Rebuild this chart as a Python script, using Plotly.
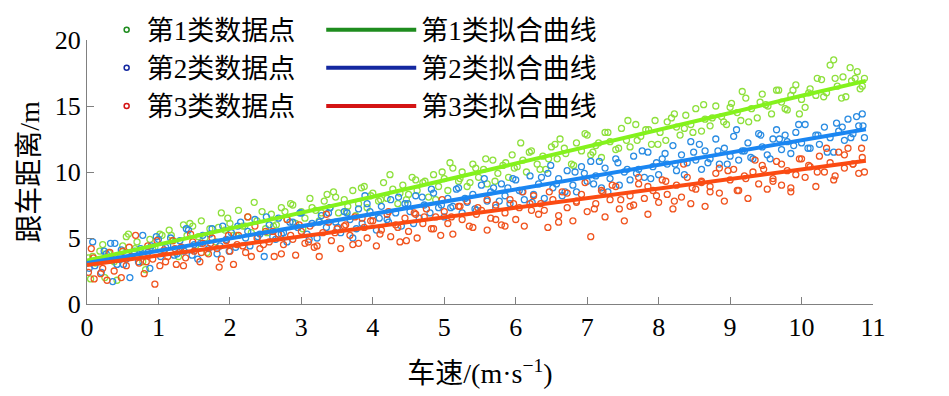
import plotly.graph_objects as go

# ---------------- data ----------------
green_x = [0.02,0.05,0.12,0.18,0.25,0.3,0.38,0.42,0.5,0.55,0.62,0.7,0.75,0.82,0.88,0.95,1.02,1.08,1.15,1.2,1.28,1.35,1.4,1.48,1.52,1.6,1.65,1.72,1.8,1.88,1.93,2.0,2.05,2.12,2.18,2.25,2.3,2.38,2.45,2.5,2.58,2.65,2.72,2.8,2.85,2.92,3.0,3.05,3.12,3.2,3.25,3.32,3.4,3.45,3.52,3.6,3.65,3.72,3.8,3.88,3.92,4.0,4.08,4.15,4.2,4.28,4.35,4.42,4.5,4.55,4.62,4.7,4.78,4.85,4.92,5.0,5.05,5.12,5.2,5.25,5.32,5.4,5.48,5.55,5.6,5.68,5.75,5.82,5.9,5.95,6.02,6.1,6.15,6.22,6.3,6.38,6.42,6.5,6.58,6.62,6.7,6.78,6.85,6.92,7.0,7.05,7.12,7.2,7.25,7.32,7.4,7.48,7.55,7.6,7.68,7.75,7.82,7.9,7.95,8.02,8.1,8.18,8.25,8.3,8.38,8.45,8.52,8.6,8.65,8.72,8.8,8.88,8.95,9.02,9.1,9.15,9.22,9.3,9.38,9.45,9.5,9.58,9.65,9.72,9.8,9.85,9.92,10.0,10.05,10.12,10.2,10.28,10.35,10.4,10.45,10.5,10.58,10.62,10.7,10.78,10.82,10.88,
           0.08,0.22,0.35,0.47,0.58,0.67,0.78,0.92,1.05,1.18,1.3,1.44,1.56,1.68,1.84,1.97,2.09,2.21,2.34,2.52,2.61,2.77,2.88,3.02,3.15,3.28,3.36,3.48,3.63,3.76,3.84,3.97,4.11,4.24,4.38,4.47,4.6,4.73,4.88,4.97,5.08,5.22,5.36,5.44,5.58,5.71,5.86,5.98,6.07,6.19,6.34,6.46,6.55,6.68,6.81,6.97,7.08,7.16,7.29,7.44,7.57,7.7,7.86,7.99,8.12,8.22,8.36,8.48,8.63,8.75,8.91,9.0,9.17,9.26,9.42,9.53,9.68,9.77,9.88,9.97,10.1,10.22,10.31,10.47,10.56,10.68,10.75,10.85]
green_y = [3.5,1.9,3.1,4.0,2.0,3.9,3.2,1.8,4.4,5.1,3.6,4.7,3.9,2.6,4.9,4.3,5.3,3.9,5.6,4.8,3.6,6.0,5.2,5.9,4.4,6.3,5.0,5.7,4.7,6.9,5.6,6.1,5.2,7.1,5.9,6.6,5.4,6.3,7.0,5.7,6.8,6.0,7.3,6.4,7.6,6.1,7.0,6.5,8.0,7.1,6.3,7.8,7.3,8.5,6.9,7.9,7.4,8.6,7.6,8.9,7.3,8.4,7.8,9.2,8.0,8.7,7.6,9.0,8.3,9.6,8.6,9.2,8.1,9.8,8.9,9.5,8.6,10.3,9.3,10.0,8.9,10.6,9.6,10.2,9.1,10.9,9.9,10.5,9.6,11.3,10.4,10.9,10.0,11.6,10.6,11.2,10.2,11.9,11.0,12.5,11.4,10.6,12.2,11.6,12.8,11.3,12.0,11.1,13.0,12.3,11.7,13.3,12.4,11.9,13.6,12.7,13.2,12.1,13.9,13.0,12.4,14.1,13.4,12.8,14.3,13.6,14.8,13.1,14.0,13.5,15.0,14.2,13.6,15.2,14.5,13.9,15.6,14.8,14.1,15.9,15.1,14.4,16.2,15.3,14.7,15.8,16.6,15.5,14.9,16.3,15.8,17.0,16.0,18.1,18.5,16.5,17.2,15.7,16.9,17.6,16.3,17.1,
           3.6,4.5,3.3,3.6,5.3,4.2,3.2,4.2,5.2,5.2,4.1,6.1,5.1,3.9,5.8,6.5,5.2,5.9,7.7,5.4,5.9,7.0,7.5,5.7,7.3,6.9,8.3,8.1,7.0,6.7,8.8,8.2,7.9,9.8,8.4,7.9,9.4,9.3,7.9,10.0,10.7,9.5,9.2,10.3,11.0,9.3,10.7,10.3,12.2,11.5,10.2,11.0,12.1,11.8,10.5,12.9,11.5,12.2,13.0,11.8,13.9,12.4,13.2,12.1,13.8,14.4,13.3,13.0,15.1,14.1,13.8,14.9,16.1,13.8,15.3,15.0,16.2,14.8,16.2,14.4,16.0,17.1,15.7,17.1,15.6,17.9,17.1,16.5]

blue_x = [0.03,0.08,0.15,0.2,0.27,0.33,0.36,0.42,0.48,0.55,0.6,0.66,0.72,0.78,0.85,0.9,0.97,1.03,1.1,1.17,1.22,1.3,1.36,1.42,1.5,1.55,1.62,1.7,1.75,1.82,1.9,1.95,2.02,2.08,2.15,2.22,2.28,2.35,2.42,2.48,2.55,2.6,2.68,2.75,2.8,2.88,2.95,3.0,3.08,3.15,3.22,3.28,3.35,3.4,3.48,3.55,3.6,3.68,3.72,3.8,3.85,3.92,4.0,4.05,4.12,4.2,4.25,4.32,4.4,4.45,4.52,4.6,4.65,4.72,4.8,4.85,4.92,5.0,5.05,5.12,5.2,5.25,5.32,5.4,5.45,5.52,5.6,5.65,5.72,5.8,5.85,5.92,6.0,6.05,6.12,6.2,6.25,6.32,6.4,6.45,6.52,6.6,6.65,6.72,6.8,6.85,6.92,7.0,7.05,7.12,7.2,7.25,7.32,7.4,7.45,7.52,7.6,7.65,7.72,7.8,7.85,7.92,8.0,8.05,8.12,8.2,8.25,8.32,8.4,8.45,8.52,8.6,8.65,8.72,8.8,8.85,8.92,9.0,9.05,9.12,9.2,9.25,9.32,9.4,9.45,9.52,9.6,9.65,9.72,9.8,9.85,9.92,10.0,10.05,10.12,10.2,10.25,10.32,10.4,10.45,10.52,10.6,10.65,10.72,10.8,10.85,10.88,
          0.11,0.24,0.39,0.51,0.63,0.75,0.88,1.0,1.13,1.26,1.39,1.47,1.59,1.72,1.86,1.99,2.11,2.25,2.39,2.51,2.64,2.72,2.84,2.98,3.11,3.25,3.38,3.51,3.64,3.77,3.89,3.96,4.09,4.22,4.36,4.49,4.57,4.69,4.82,4.96,5.09,5.17,5.29,5.43,5.56,5.69,5.77,5.89,5.96,6.09,6.23,6.36,6.49,6.57,6.69,6.83,6.96,7.09,7.17,7.29,7.43,7.56,7.69,7.77,7.89,7.97,8.09,8.23,8.36,8.49,8.57,8.69,8.83,8.96,9.09,9.17,9.29,9.43,9.56,9.69,9.77,9.89,9.96,10.09,10.23,10.36,10.49,10.57,10.69,10.77,10.86]
blue_y = [2.7,4.7,3.3,2.4,3.8,4.6,1.7,3.0,4.1,3.4,2.0,4.0,3.2,5.2,3.9,4.4,5.1,3.6,4.3,5.0,3.7,4.8,4.0,5.6,4.5,3.4,5.2,4.2,5.7,3.8,5.9,4.9,5.4,4.3,6.2,5.0,4.4,6.4,5.3,3.6,6.0,5.1,6.5,5.4,4.7,6.2,5.8,6.9,5.3,6.1,5.0,6.7,5.8,7.3,6.2,5.4,7.0,6.4,5.0,7.2,6.1,7.6,6.7,5.6,7.4,6.4,7.9,6.9,5.9,7.6,7.0,8.2,6.5,7.5,6.9,8.4,7.3,6.6,8.0,7.4,8.8,6.9,7.7,8.3,7.1,9.0,7.8,8.5,7.3,9.1,8.2,7.6,9.4,8.6,7.9,9.7,8.3,9.1,8.0,9.9,8.8,9.5,8.2,10.1,9.0,8.5,10.4,9.3,10.8,9.7,8.8,10.3,9.5,11.0,9.0,10.0,9.4,11.2,10.2,9.6,11.5,10.4,9.8,11.0,10.6,12.0,10.1,11.3,10.7,12.3,10.9,10.2,11.6,11.0,12.5,10.6,11.8,11.2,12.7,10.9,11.6,12.2,11.0,12.9,11.9,11.3,12.5,13.2,11.7,12.3,11.4,13.0,12.2,13.6,11.8,12.8,12.1,13.4,12.6,11.5,13.1,12.4,14.0,12.9,13.5,14.4,12.6,
          2.9,4.0,4.6,3.0,3.6,4.2,2.7,4.9,4.4,3.8,5.7,3.7,4.6,5.3,4.4,4.0,5.9,5.5,5.1,6.6,4.9,5.3,6.2,6.9,4.9,6.2,6.9,5.8,6.9,5.7,8.2,7.0,6.5,6.2,8.1,7.6,6.1,8.1,8.7,7.5,7.3,8.7,8.0,7.2,9.5,8.8,7.8,8.8,9.5,8.5,7.7,9.6,10.5,9.1,8.5,10.0,9.9,9.1,10.8,8.5,10.7,10.2,9.9,11.6,9.5,10.7,11.4,10.6,9.8,11.5,12.1,10.7,11.6,10.6,13.2,11.6,11.1,12.8,11.0,12.5,12.8,12.0,13.6,11.8,12.8,11.5,13.7,13.4,12.6,14.2,13.5]

red_x = [0.02,0.06,0.1,0.16,0.22,0.28,0.32,0.38,0.45,0.5,0.55,0.62,0.68,0.73,0.8,0.85,0.92,0.95,1.02,1.08,1.13,1.2,1.25,1.32,1.38,1.45,1.5,1.58,1.62,1.7,1.75,1.82,1.88,1.95,2.0,2.05,2.12,2.18,2.25,2.3,2.38,2.42,2.5,2.55,2.62,2.68,2.75,2.8,2.88,2.92,3.0,3.05,3.12,3.18,3.25,3.3,3.38,3.42,3.5,3.55,3.62,3.68,3.75,3.8,3.88,3.92,4.0,4.05,4.12,4.2,4.25,4.32,4.38,4.45,4.5,4.58,4.62,4.7,4.75,4.82,4.88,4.95,5.0,5.05,5.12,5.2,5.25,5.32,5.4,5.45,5.52,5.6,5.65,5.72,5.8,5.85,5.92,6.0,6.05,6.12,6.2,6.25,6.32,6.4,6.45,6.52,6.6,6.65,6.72,6.8,6.85,6.92,7.0,7.05,7.12,7.2,7.25,7.32,7.4,7.45,7.52,7.6,7.65,7.72,7.8,7.85,7.92,8.0,8.05,8.12,8.2,8.25,8.32,8.4,8.45,8.52,8.6,8.65,8.72,8.8,8.85,8.92,9.0,9.05,9.12,9.2,9.25,9.32,9.4,9.45,9.52,9.6,9.65,9.72,9.8,9.85,9.92,10.0,10.05,10.12,10.2,10.25,10.32,10.4,10.45,10.52,10.6,10.65,10.72,10.8,10.85,10.88,
         0.09,0.19,0.35,0.48,0.59,0.7,0.83,0.98,1.1,1.23,1.35,1.48,1.6,1.73,1.85,1.98,2.1,2.22,2.35,2.47,2.6,2.72,2.85,2.97,3.1,3.22,3.35,3.47,3.6,3.72,3.85,3.97,4.1,4.22,4.35,4.47,4.6,4.72,4.85,4.97,5.1,5.22,5.35,5.47,5.6,5.72,5.85,5.97,6.1,6.22,6.35,6.47,6.6,6.72,6.85,6.97,7.1,7.22,7.35,7.47,7.6,7.72,7.85,7.97,8.1,8.22,8.35,8.47,8.6,8.72,8.85,8.97,9.1,9.22,9.35,9.47,9.6,9.72,9.85,9.97,10.1,10.22,10.35,10.47,10.6,10.72,10.84]
red_y = [2.4,4.2,1.9,3.2,2.7,1.8,3.9,2.5,3.4,4.0,2.9,3.6,5.2,3.1,2.3,4.4,3.4,1.5,2.9,4.1,3.6,4.8,3.0,4.3,3.5,5.3,4.0,3.2,4.6,3.8,5.0,4.2,3.4,4.8,4.0,3.0,5.2,4.4,6.6,3.6,5.0,4.2,5.5,4.7,3.6,5.3,4.5,6.4,4.9,3.7,5.5,4.6,5.9,4.3,3.6,5.4,6.2,4.8,5.7,4.2,6.0,5.2,6.6,4.6,5.8,5.0,6.3,4.4,5.6,6.8,5.1,6.0,4.7,6.5,5.5,6.9,5.0,6.1,7.2,5.7,6.6,5.2,7.0,6.1,5.3,7.4,6.4,7.8,5.8,6.8,7.1,5.6,6.5,7.5,6.0,6.9,7.9,6.4,7.3,5.9,7.6,8.2,6.8,7.1,5.8,7.9,6.7,8.5,7.3,6.3,7.7,8.3,7.0,5.1,7.6,8.6,6.6,7.9,8.9,7.2,6.3,8.2,7.5,9.1,8.0,6.8,8.6,7.7,9.4,8.3,7.2,9.0,8.1,9.6,7.6,8.7,9.2,7.4,8.9,9.9,8.4,7.8,9.4,10.2,8.6,9.7,8.0,10.0,9.1,10.5,8.7,9.5,10.8,9.0,10.1,8.5,9.8,11.0,9.6,10.4,8.9,11.2,10.0,10.7,9.4,11.5,10.3,11.8,10.6,9.9,11.1,10.0,
         3.5,2.3,3.4,2.0,4.3,3.6,3.2,4.8,3.2,4.2,2.9,4.7,3.9,4.6,2.8,5.2,4.5,3.9,5.9,4.5,5.5,3.8,5.2,6.0,4.7,4.4,6.8,5.4,5.9,4.5,6.5,6.3,5.3,7.0,5.8,4.8,6.8,6.6,5.7,7.9,6.6,7.4,5.9,7.3,7.9,6.4,5.9,7.6,8.5,7.1,7.6,8.5,6.2,8.4,7.8,9.2,7.2,8.5,9.0,7.9,7.4,9.6,8.9,8.2,9.3,7.8,10.6,8.8,9.3,8.5,10.3,10.1,8.6,9.5,10.9,10.2,9.3,10.6,8.8,11.0,10.5,10.0,11.8,9.7,11.3,10.6,11.8]

fit_x = [0, 1, 2, 3, 4, 5, 6, 7, 8, 9, 10, 10.9]
green_fit = [3.3, 4.49, 5.69, 6.90, 8.13, 9.37, 10.63, 11.90, 13.18, 14.47, 15.78, 16.9]
blue_fit = [3.1, 4.03, 4.96, 5.89, 6.82, 7.75, 8.68, 9.61, 10.54, 11.47, 12.4, 13.24]
red_fit = [2.95, 3.68, 4.41, 5.14, 5.87, 6.6, 7.33, 8.06, 8.79, 9.52, 10.25, 10.85]

point_names = ["第1类数据点", "第2类数据点", "第3类数据点"]
line_names = ["第1类拟合曲线", "第2类拟合曲线", "第3类拟合曲线"]
x_ticks = [0, 1, 2, 3, 4, 5, 6, 7, 8, 9, 10, 11]
y_ticks = [0, 5, 10, 15, 20]

# ---------------- styles ----------------
pt_colors = ["#8ee03c", "#2a8ce2", "#f0541f"]
ln_colors = ["#84f21c", "#1a86f2", "#fb4a12"]
lg_colors = ["#1e8c1e", "#1428a0", "#d41414"]
SERIF = "Liberation Serif, Times New Roman, Noto Sans CJK SC, serif"
CJK = "Liberation Serif, Noto Sans CJK SC, serif"

fig = go.Figure()
pts = [(green_x, green_y), (blue_x, blue_y), (red_x, red_y)]
fits = [green_fit, blue_fit, red_fit]
for i, (xs, ys) in enumerate(pts):
    fig.add_trace(go.Scatter(x=xs, y=ys, mode="markers", showlegend=False,
                             marker=dict(symbol="circle-open", size=6, color=pt_colors[i],
                                         line=dict(width=1.3, color=pt_colors[i])),
                             name=point_names[i]))
for i, ys in enumerate(fits):
    fig.add_trace(go.Scatter(x=fit_x, y=ys, mode="lines", showlegend=False,
                             line=dict(color=ln_colors[i], width=4), name=line_names[i]))

# legend entries (legend colours differ from plot colours in the reference)
for i in range(3):
    fig.add_trace(go.Scatter(x=[None], y=[None], mode="markers", name=point_names[i],
                             legend="legend",
                             marker=dict(symbol="circle-open", size=5, color=lg_colors[i],
                                         line=dict(width=1.5, color=lg_colors[i]))))
for i in range(3):
    fig.add_trace(go.Scatter(x=[None], y=[None], mode="lines", name=line_names[i],
                             legend="legend2",
                             line=dict(color=lg_colors[i], width=4)))

axis_common = dict(showline=True, linecolor="#808080", linewidth=1, ticks="inside",
                   ticklen=7, tickcolor="#808080", showgrid=False, zeroline=False,
                   automargin=False,
                   tickfont=dict(family=SERIF, size=26, color="black"))

# the page body adds an 8 px offset, so the figure is 8 px smaller on each side
fig.update_layout(
    width=941, height=388,
    margin=dict(l=79, r=76, t=32, b=92, autoexpand=False),
    paper_bgcolor="white", plot_bgcolor="white",
    xaxis=dict(range=[0, 11], tickvals=x_ticks, **axis_common,
               title=dict(text="车速/(m·s<sup>−1</sup>)", font=dict(family=CJK, size=28, color="black"),
                          standoff=22)),
    yaxis=dict(range=[0, 20], tickvals=y_ticks, **axis_common,
               title=dict(text="跟车距离/m", font=dict(family=CJK, size=28, color="black"),
                          standoff=6)),
    legend=dict(x=0.025, y=1.13, xanchor="left", yanchor="top", orientation="v",
                bgcolor="rgba(0,0,0,0)", font=dict(family=CJK, size=27, color="black"),
                itemwidth=30, tracegroupgap=0),
    legend2=dict(x=0.298, y=1.13, xanchor="left", yanchor="top", orientation="v",
                 bgcolor="rgba(0,0,0,0)", font=dict(family=CJK, size=27, color="black"),
                 itemwidth=90, tracegroupgap=0),
)

fig.write_html("out.html")
